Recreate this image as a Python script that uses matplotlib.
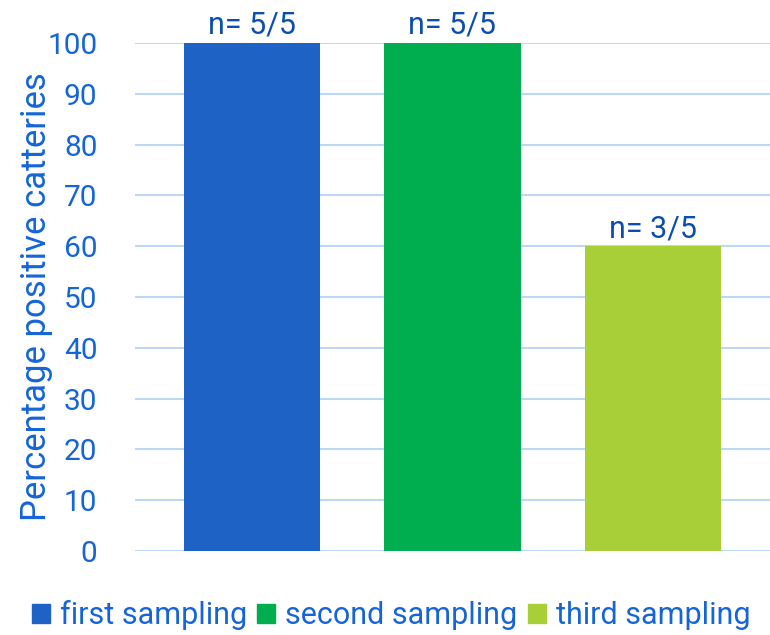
import matplotlib.pyplot as plt
from matplotlib.patches import Patch

plt.rcParams['font.family'] = ['Roboto', 'DejaVu Sans']

# data
categories = ['first sampling', 'second sampling', 'third sampling']
percent = [100, 100, 60]
labels = ['n= 5/5', 'n= 5/5', 'n= 3/5']
colors = ['#1F62C6', '#00AD4F', '#A9CF38']
yticks = list(range(0, 101, 10))

text_col = '#1565D8'
note_col = '#0B4EB0'
grid_col = '#BDD7F7'

fig = plt.figure(figsize=(7.7, 6.35), dpi=100)
ax = fig.add_axes([0.1753, 0.1323, 0.8247, 0.80])

x = range(len(categories))
bars = ax.bar(x, percent, width=0.68, color=colors, zorder=3)

# n labels above bars
for b, lab in zip(bars, labels):
    ax.text(b.get_x() + b.get_width() / 2, b.get_height() + 1.8, lab,
            ha='center', va='baseline', fontsize=22, color=note_col)

ax.set_xlim(-0.585, 2.585)
ax.set_ylim(0, 100)
ax.set_yticks(yticks)
ax.set_xticks([])
ax.tick_params(axis='y', length=0, pad=27, labelsize=21.5, labelcolor=text_col)
ax.yaxis.grid(True, color=grid_col, linewidth=1.5, zorder=0)
for s in ax.spines.values():
    s.set_visible(False)

ax.set_ylabel('Percentage positive catteries', fontsize=25, color=text_col)
ax.yaxis.set_label_coords(-0.129, 0.5)

handles = [Patch(color=c) for c in colors]
fig.legend(handles, categories, loc='center', bbox_to_anchor=(0.508, 0.031), ncol=3,
           frameon=False, fontsize=22, labelcolor=text_col, handlelength=0.59,
           handleheight=0.62, handletextpad=0.33, columnspacing=0.33,
           borderpad=0, borderaxespad=0)

fig.savefig('out.png', dpi=100)
